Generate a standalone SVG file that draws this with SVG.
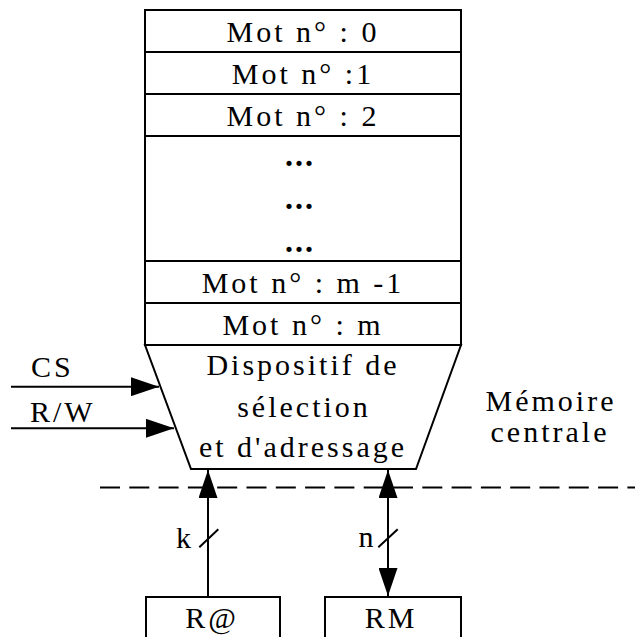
<svg xmlns="http://www.w3.org/2000/svg" width="635" height="637" viewBox="0 0 635 637">
  <style>
    .box { fill: #fff; stroke: #000; stroke-width: 2; }
    .ln { fill: none; stroke: #000; stroke-width: 2; }
    .t { font-family: "Liberation Serif", "Times New Roman", serif; font-size: 30px; letter-spacing: 3px; fill: #000; }
    .c { text-anchor: middle; }
    .dots { font-weight: bold; font-size: 32px; letter-spacing: 2px; }
  </style>
  <defs>
    <marker id="head" viewBox="0 0 28 19" markerWidth="28" markerHeight="19" refX="28" refY="9.5" markerUnits="userSpaceOnUse" orient="auto-start-reverse">
      <path d="M0,0 L28,9.5 L0,19 z" fill="#000"/>
    </marker>
  </defs>
  <rect width="635" height="637" fill="#fff"/>

  <!-- memory words column -->
  <g id="words">
    <rect class="box" x="145" y="10" width="316" height="335"/>
    <line class="ln" x1="145" y1="52" x2="461" y2="52"/>
    <line class="ln" x1="145" y1="94" x2="461" y2="94"/>
    <line class="ln" x1="145" y1="136" x2="461" y2="136"/>
    <line class="ln" x1="145" y1="261" x2="461" y2="261"/>
    <line class="ln" x1="145" y1="303" x2="461" y2="303"/>
    <text class="t c" x="303" y="41.5">Mot n° : 0</text>
    <text class="t c" x="303" y="83.5">Mot n° :1</text>
    <text class="t c" x="303" y="125.5">Mot n° : 2</text>
    <text class="t c dots" x="300" y="166">...</text>
    <text class="t c dots" x="300" y="209">...</text>
    <text class="t c dots" x="300" y="252">...</text>
    <text class="t c" x="303" y="292.5">Mot n° : m -1</text>
    <text class="t c" x="303" y="334.5">Mot n° : m</text>
  </g>

  <!-- selection / addressing unit -->
  <g id="selector">
    <polygon class="box" points="145,345 461,345 416,469 191,469"/>
    <text class="t c" x="303" y="375">Dispositif de</text>
    <text class="t c" x="304" y="416.5">sélection</text>
    <text class="t c" x="303" y="456.5">et d'adressage</text>
  </g>

  <g id="label-memoire">
    <text class="t c" x="551" y="410.5">Mémoire</text>
    <text class="t c" x="550" y="441.5">centrale</text>
  </g>

  <g id="reg-addr">
    <rect class="box" x="146" y="597" width="134" height="50"/>
    <text class="t c" x="212" y="628">R@</text>
  </g>

  <g id="reg-data">
    <rect class="box" x="325" y="597" width="136" height="50"/>
    <text class="t c" x="391" y="628">RM</text>
  </g>

  <!-- boundary, signals and buses -->
  <g id="connectors">
    <line class="ln" x1="100" y1="487.5" x2="635" y2="487.5" stroke-dasharray="20 9.3"/>
    <line class="ln" x1="11" y1="386.7" x2="159" y2="386.7" marker-end="url(#head)"/>
    <line class="ln" x1="11" y1="428.3" x2="174" y2="428.3" marker-end="url(#head)"/>
    <text class="t" x="31" y="376.7">CS</text>
    <text class="t" x="30" y="421.7">R/W</text>
    <line class="ln" x1="208" y1="597" x2="208" y2="470" marker-end="url(#head)"/>
    <line class="ln" x1="388" y1="470" x2="388" y2="596" marker-start="url(#head)" marker-end="url(#head)"/>
    <line class="ln" x1="199.3" y1="547.3" x2="218.3" y2="529.3"/>
    <line class="ln" x1="378.3" y1="547.3" x2="397.7" y2="529.3"/>
    <text class="t" x="176" y="548">k</text>
    <text class="t" x="358.5" y="547">n</text>
  </g>
</svg>
